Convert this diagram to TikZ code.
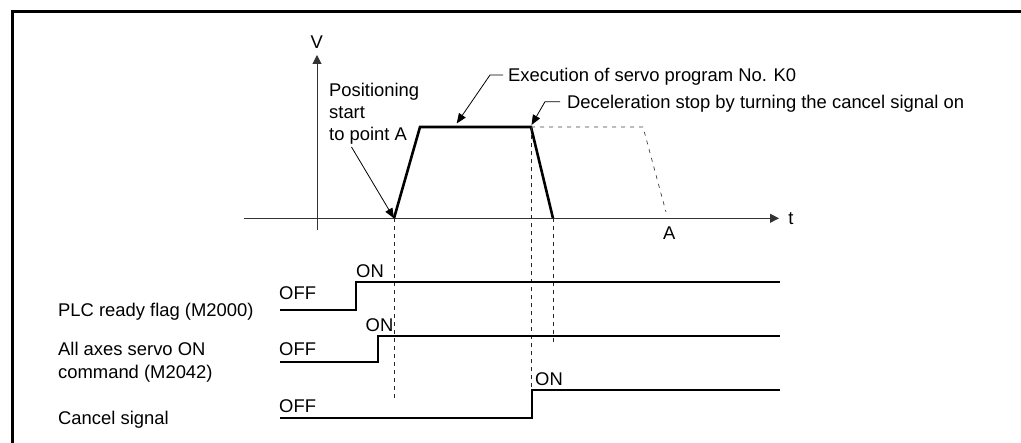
\documentclass[tikz,border=0pt]{standalone}
\usepackage{fontspec}
\setmainfont{Liberation Sans}
\usetikzlibrary{arrows.meta}
\tikzset{
  lbl/.style={font=\fontsize{18.4}{21.7}\selectfont, inner sep=0pt, text=black},
  frameline/.style={line width=3.5pt, line join=miter},
  axisline/.style={line width=1pt, draw=black!80, -{Triangle[length=9pt,width=9pt]}},
  leader/.style={line width=0.8pt, -{Triangle[length=10pt,width=8pt]}},
  speed/.style={line width=2.6pt, line join=miter},
  sig/.style={line width=2pt, line join=miter},
  guide/.style={line width=0.8pt, dash pattern=on 4pt off 4pt, draw=black!85},
  ghost/.style={line width=0.7pt, dash pattern=on 4pt off 5pt, draw=black!75},
}
\begin{document}
\begin{tikzpicture}[x=1pt,y=-1pt]
\useasboundingbox (0,0) rectangle (1021,443);
% frame
\draw[frameline] (12.5,443) -- (12.5,11.3) -- (1023,11.3);

% axes
\coordinate (vbot) at (317,230);
\coordinate (vtop) at (317,55);
\coordinate (tleft) at (244,218.3);
\coordinate (tright) at (779,218.3);
\draw[axisline] (vbot) -- (vtop);
\draw[axisline] (tleft) -- (tright);
\node[lbl, anchor=base] (vlab) at (316.7,48.3) {V};
\node[lbl, anchor=base] (tlab) at (791,224.3) {t};
\node[lbl, anchor=base] (alab) at (669.3,239.3) {A};

% speed profile
\coordinate (p0) at (394,218.3);
\coordinate (p1) at (420,127);
\coordinate (p2) at (531,127);
\coordinate (p3) at (553,218.3);
\coordinate (g1) at (643,127);
\coordinate (g2) at (666,212);
\draw[speed] (p0) -- (p1) -- (p2) -- (p3);
\draw[ghost] (p2) -- (g1) -- (g2);

% labels with leaders
\node[lbl, anchor=base west] (pos1) at (329,97) {Positioning};
\node[lbl, anchor=base west] (pos2) at (329,118.7) {start};
\node[lbl, anchor=base west] (pos3) at (329,140.4) {to point A};
\coordinate (posl) at (351.5,147);
\draw[leader] (posl) -- (p0);

\node[lbl, anchor=base west] (exec) at (508,81.7) {Execution of servo program No. K0};
\coordinate (ek1) at (503,75);
\coordinate (ek2) at (490,75);
\coordinate (etip) at (456.7,123.5);
\draw[leader] (ek1) -- (ek2) -- (etip);

\node[lbl, anchor=base west] (decel) at (567,108.3) {Deceleration stop by turning the cancel signal on};
\coordinate (dk1) at (560,101.7);
\coordinate (dk2) at (545,101.7);
\coordinate (dtip) at (531.5,125);
\draw[leader] (dk1) -- (dk2) -- (dtip);

% guide lines
\coordinate (q0) at (394,398);
\coordinate (q2) at (531,390);
\coordinate (q3) at (553,345);
\draw[guide] (p0) -- (q0);
\draw[guide] (p2) -- (q2);
\draw[guide] (p3) -- (q3);

% signal names
\node[lbl, anchor=base west] (plcname) at (58,316.7) {PLC ready flag (M2000)};
\node[lbl, anchor=base west] (svname1) at (58,356) {All axes servo ON};
\node[lbl, anchor=base west] (svname2) at (58,378.5) {command (M2042)};
\node[lbl, anchor=base west] (cnname) at (58,425) {Cancel signal};

% PLC ready
\coordinate (a0) at (280,310);
\coordinate (a1) at (356,310);
\coordinate (a2) at (356,282.3);
\coordinate (a3) at (780,282.3);
\draw[sig] (a0) -- (a1) -- (a2) -- (a3);
\node[lbl, anchor=base west] (aoff) at (279,300) {OFF};
\node[lbl, anchor=base] (aon) at (370,277.3) {ON};

% Servo ON
\coordinate (b0) at (280,362.3);
\coordinate (b1) at (378,362.3);
\coordinate (b2) at (378,336);
\coordinate (b3) at (780,336);
\draw[sig] (b0) -- (b1) -- (b2) -- (b3);
\node[lbl, anchor=base west] (boff) at (279,356) {OFF};
\node[lbl, anchor=base] (bon) at (379.5,331.7) {ON};

% Cancel
\coordinate (c0) at (280,418.3);
\coordinate (c1) at (531.7,418.3);
\coordinate (c2) at (531.7,390);
\coordinate (c3) at (780,390);
\draw[sig] (c0) -- (c1) -- (c2) -- (c3);
\node[lbl, anchor=base west] (coff) at (279,412.7) {OFF};
\node[lbl, anchor=base] (con) at (549,386) {ON};
\end{tikzpicture}
\end{document}
